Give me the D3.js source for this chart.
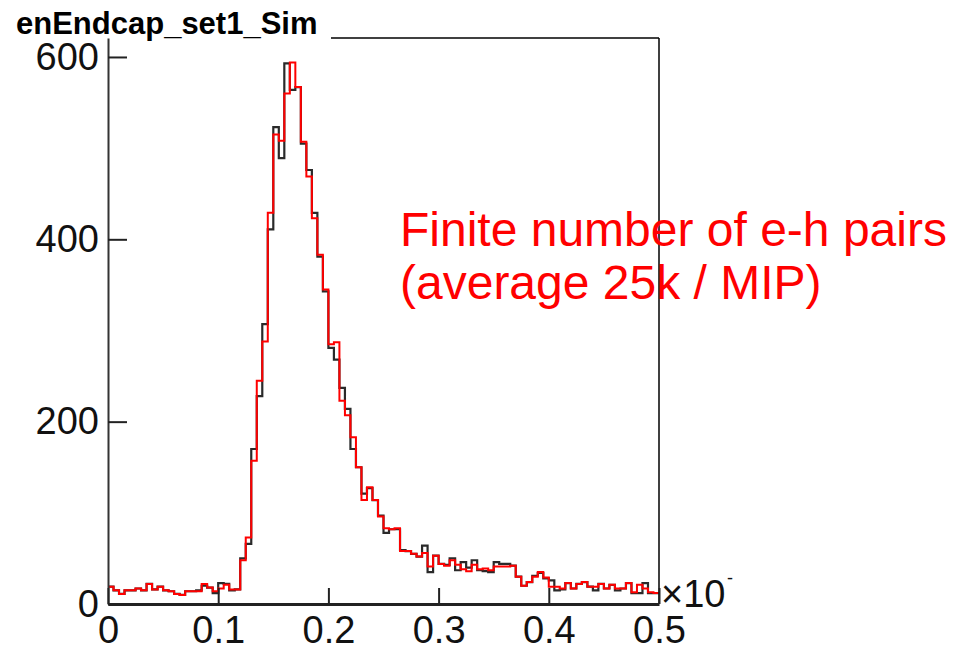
<!DOCTYPE html>
<html>
<head>
<meta charset="utf-8">
<script src="https://cdn.jsdelivr.net/npm/d3@7"></script>
<style>
    body { margin: 0; background: #fff; }
    svg { display: block; }
    text { font-family: "Liberation Sans", Arial, sans-serif; }
</style>
</head>
<body>
<svg id="chart"></svg>
<script>
// Histogram binning: 100 bins from 0 to 0.5
const xMin = 0;
const xMax = 0.5;
const binWidth = 0.005;

// Bin contents (black = reference sim, red = finite e-h pairs)
const blackCounts = [
    19, 15, 11, 15, 15, 17, 15, 22, 16, 19,
    15, 14, 11, 10, 14, 14, 15, 20, 18, 12,
    23, 22, 15, 16, 50, 66, 170, 228, 307, 411,
    523, 489, 593, 564, 567, 505, 476, 429, 381, 343,
    281, 268, 237, 214, 170, 150, 121, 127, 114, 97,
    78, 82, 82, 59, 58, 55, 52, 64, 35, 53,
    44, 43, 50, 37, 46, 40, 48, 37, 36, 35,
    46, 44, 44, 42, 30, 20, 24, 31, 34, 28,
    26, 15, 16, 23, 17, 22, 24, 19, 15, 22,
    17, 21, 15, 17, 23, 12, 12, 23, 12, 12
];
const redCounts = [
    19, 15, 11, 15, 15, 17, 15, 22, 16, 19,
    15, 14, 11, 10, 14, 14, 14, 22, 18, 14,
    17, 21, 16, 16, 48, 73, 157, 245, 288, 429,
    515, 508, 560, 594, 567, 507, 469, 423, 383, 345,
    285, 287, 223, 207, 183, 150, 114, 128, 114, 96,
    83, 82, 83, 58, 58, 55, 52, 56, 41, 53,
    44, 42, 48, 43, 38, 36, 43, 38, 39, 37,
    41, 41, 41, 42, 30, 20, 24, 30, 35, 29,
    19, 19, 17, 23, 17, 22, 24, 19, 19, 22,
    17, 21, 17, 17, 23, 13, 21, 17, 13, 12
];

// Axis ticks and labels
const xTicks = [0, 0.1, 0.2, 0.3, 0.4, 0.5];
const yTicks = [0, 200, 400, 600];
const titleText = 'enEndcap_set1_Sim';
const noteLines = ['Finite number of e-h pairs', '(average 25k / MIP)'];

const width = 954, height = 652;
const frame = { left: 108, right: 659, top: 38, bottom: 604 };

const svg = d3.select('#chart').attr('width', width).attr('height', height);

const xScale = d3.scaleLinear().domain([xMin, xMax]).range([frame.left, frame.right]);
const yScale = d3.scaleLinear().domain([0, 620.8]).range([frame.bottom, frame.top]);

// Turn bin contents into step points (left edge of each bin + closing right edge)
function stepPoints(counts) {
    const pts = counts.map((c, i) => [xMin + i * binWidth, c]);
    pts.push([xMin + counts.length * binWidth, counts[counts.length - 1]]);
    return pts;
}

const line = d3.line()
    .x(d => xScale(d[0]))
    .y(d => yScale(d[1]))
    .curve(d3.curveStepAfter);

// Histograms: black first, red drawn over it
svg.append('path')
    .attr('d', line(stepPoints(blackCounts)))
    .attr('fill', 'none')
    .attr('stroke', '#2a2a2a')
    .attr('stroke-width', 2.2);

svg.append('path')
    .attr('d', line(stepPoints(redCounts)))
    .attr('fill', 'none')
    .attr('stroke', '#ff0000')
    .attr('stroke-width', 2);

// Frame: top and right edges (top one starts after the title box)
svg.append('line')
    .attr('x1', 331).attr('x2', frame.right)
    .attr('y1', frame.top).attr('y2', frame.top)
    .attr('stroke', '#000').attr('stroke-width', 1.5);
svg.append('line')
    .attr('x1', frame.right).attr('x2', frame.right)
    .attr('y1', frame.top).attr('y2', frame.bottom)
    .attr('stroke', '#000').attr('stroke-width', 1.5);

// Y axis, ticks pointing inward
const yAxis = svg.append('g')
    .attr('transform', `translate(${frame.left},0)`)
    .call(d3.axisLeft(yScale).tickValues(yTicks).tickSizeInner(-19).tickSizeOuter(0).tickPadding(9));

// X axis, ticks pointing inward
const xAxis = svg.append('g')
    .attr('transform', `translate(0,${frame.bottom})`)
    .call(d3.axisBottom(xScale).tickValues(xTicks).tickFormat(d3.format('')).tickSizeInner(-16).tickSizeOuter(0).tickPadding(12));

[yAxis, xAxis].forEach(ax => {
    ax.selectAll('text').attr('font-size', 38).attr('fill', '#111').attr('font-family', '"Liberation Sans", Arial, sans-serif');
    ax.selectAll('.tick line').attr('stroke', '#222').attr('stroke-width', 2);
});
yAxis.select('.domain').attr('stroke', '#333').attr('stroke-width', 2);
xAxis.select('.domain').attr('stroke', '#222').attr('stroke-width', 3);

// Exponent marker at the end of the x axis (superscript is clipped in the original)
svg.append('text')
    .attr('x', 661).attr('y', 607)
    .attr('font-size', 38).attr('fill', '#111')
    .text('\u00d710');
svg.append('text')
    .attr('x', 727).attr('y', 584)
    .attr('font-size', 18).attr('fill', '#111')
    .text('-');

// Title
svg.append('text')
    .attr('x', 16).attr('y', 34)
    .attr('font-size', 31).attr('font-weight', 'bold')
    .attr('fill', '#000')
    .text(titleText);

// Red annotation
svg.append('g').selectAll('text')
    .data(noteLines)
    .enter()
    .append('text')
    .attr('x', 400)
    .attr('y', (d, i) => 246 + i * 53)
    .attr('font-size', 48)
    .attr('fill', '#ff0000')
    .text(d => d);
</script>
</body>
</html>
